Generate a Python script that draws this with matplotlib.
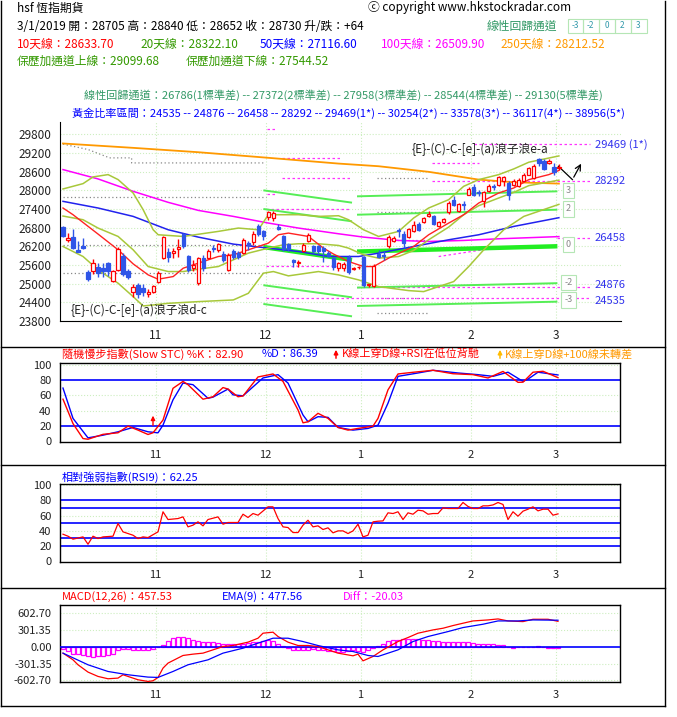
import numpy as np
import matplotlib.pyplot as plt
from matplotlib.lines import Line2D
from matplotlib.patches import Rectangle

plt.rcParams['font.family'] = ['Noto Sans CJK TC', 'DejaVu Sans']

# ---- candles (Oct 2018 .. 1 Mar 2019) ----
opens = [26817, 26386, 26483, 26080, 26200, 25388, 25420, 25549, 25500, 25660,
         25099, 25442, 25893, 25400, 24744, 24959, 24850, 24660, 24720, 25066,
         25818, 26011, 25990, 26100, 26591, 25893, 25500, 25013, 25839, 25839,
         26140, 26065, 25947, 25442, 26054, 25979, 25979, 26301, 26323, 26859,
         26677, 27127, 27106, 26806, 26516, 26269, 25753, 25657, 26032, 26376,
         26215, 26215, 26140, 25990, 25818, 25496, 25496, 25871, 25470, 25520,
         25871, 24940, 24920, 25957, 25920, 26194, 26380, 26730, 26601, 26494,
         26677, 26923, 26988, 27180, 27159, 26859, 26990, 27288, 27696, 27321,
         27560, 27857, 28104, 27950, 27643, 27964, 28147, 28179, 28300, 28233,
         28179, 28126, 28308, 28501, 28394, 29006, 28952, 28880, 28737, 28705]
highs = [26860, 26623, 26752, 26354, 26460, 25440, 25786, 25657, 25660, 25710,
         25450, 26190, 25980, 25480, 24990, 25010, 24990, 24820, 24960, 25390,
         26515, 26140, 26140, 26420, 26620, 25930, 25760, 25870, 25925, 26118,
         26247, 26301, 26032, 25979, 26118, 26032, 26462, 26355, 26677, 26913,
         26730, 27321, 27321, 26913, 26569, 26301, 25796, 25764, 26301, 26623,
         26247, 26247, 26194, 26050, 25850, 25700, 25680, 25920, 25550, 25560,
         25890, 25000, 25620, 26086, 26050, 26550, 26520, 26784, 26680, 26800,
         26998, 26990, 27150, 27321, 27200, 27000, 27106, 27640, 27800, 27600,
         27640, 28090, 28211, 28000, 27990, 28200, 28200, 28460, 28450, 28290,
         28350, 28380, 28560, 28760, 28840, 29040, 29000, 28990, 28880, 28840]
lows = [26494, 26322, 26107, 26000, 26100, 25100, 25313, 25227, 25200, 25230,
        25060, 25420, 25250, 25140, 24580, 24530, 24600, 24560, 24690, 25010,
        25790, 25710, 25820, 25870, 26140, 25388, 25390, 24960, 25410, 25796,
        26011, 26011, 25710, 25410, 25796, 25796, 25947, 26086, 26247, 26516,
        26408, 27052, 27020, 26709, 26032, 26032, 25550, 25550, 26011, 26333,
        25979, 25947, 25710, 25850, 25450, 25400, 25420, 25300, 25440, 25480,
        24906, 24880, 24880, 25820, 25764, 26150, 26350, 26494, 26140, 26460,
        26650, 26700, 26960, 27150, 26880, 26820, 26960, 27250, 27500, 27300,
        27370, 27830, 27800, 27820, 27449, 27930, 28020, 28150, 28140, 27696,
        28150, 28100, 28280, 28480, 28350, 28770, 28650, 28850, 28501, 28652]
closes = [26537, 26462, 26140, 26030, 26150, 25142, 25678, 25335, 25400, 25400,
          25420, 26107, 25313, 25200, 24905, 24669, 24740, 24740, 24910, 25335,
          26494, 25871, 26040, 26180, 26193, 25442, 25600, 25818, 25517, 26054,
          26097, 26269, 25764, 25925, 25871, 25871, 26408, 26226, 26591, 26591,
          26516, 27288, 27267, 26762, 26118, 26108, 25710, 25700, 26247, 26569,
          26032, 26054, 26032, 25900, 25549, 25657, 25630, 25388, 25500, 25530,
          24959, 24980, 25571, 25871, 25880, 26494, 26470, 26687, 26301, 26752,
          26891, 26730, 27106, 27230, 26923, 26966, 27080, 27589, 27535, 27567,
          27520, 28040, 27857, 27900, 27932, 28147, 28093, 28415, 28420, 27857,
          28308, 28340, 28501, 28716, 28791, 28878, 28684, 28950, 28587, 28730]

month_pos = [18.5, 40.5, 59.5, 81.5, 98.5]
month_labels = ['11', '12', '1', '2', '3']
price_ticks = [29800, 29200, 28600, 28000, 27400, 26800, 26200, 25600, 25000, 24400, 23800]

# ---- moving averages / bollinger ----
ma250_x = [0, 14, 27, 41, 55, 63, 73, 83, 90, 99]
ma250_y = [29500, 29360, 29220, 29040, 28855, 28770, 28590, 28340, 28255, 28212]
ma100_x = [0, 7, 14, 21, 27, 34, 41, 47, 55, 60, 67, 73, 80, 87, 99]
ma100_y = [28662, 28362, 27964, 27610, 27352, 27159, 26945, 26784, 26601, 26494,
           26387, 26354, 26387, 26440, 26510]
ma50_x = [0, 7, 14, 21, 27, 34, 41, 47, 53, 59, 63, 70, 77, 83, 90, 99]
ma50_y = [27642, 27428, 27159, 26730, 26494, 26269, 26140, 26032, 25871, 25871,
          25979, 26193, 26408, 26569, 26837, 27117]
ma10_x = [0, 2, 7, 11, 14, 17, 19, 22, 24, 27, 31, 34, 37, 41, 43, 45, 49, 52, 54,
          57, 60, 62, 65, 70, 73, 77, 80, 83, 87, 90, 93, 97, 99]
ma10_y = [27428, 27213, 26591, 26086, 25635, 25281, 25142, 25227, 25496, 25657,
          25871, 25925, 26086, 26301, 26569, 26623, 26515, 26140, 25950, 25710,
          25549, 25549, 25818, 26193, 26569, 26945, 27213, 27589, 27911, 28072,
          28340, 28501, 28634]
bup_x = [0, 4, 6, 9, 11, 14, 16, 18, 19, 24, 31, 35, 39, 41, 44, 47, 51, 55, 57, 60,
         63, 67, 70, 73, 77, 80, 83, 87, 90, 93, 99]
bup_y = [28040, 28211, 28426, 28501, 28340, 27911, 27374, 26730, 26569, 26515,
         26677, 26784, 26730, 27213, 27213, 27213, 27159, 27180, 27052, 26730,
         26515, 26677, 27106, 27428, 27696, 28125, 28340, 28501, 28684, 28899, 29100]
bmid_x = [0, 4, 7, 11, 14, 17, 21, 24, 27, 31, 34, 37, 41, 44, 47, 51, 55, 57, 60,
          63, 67, 70, 73, 77, 80, 83, 87, 90, 93, 99]
bmid_y = [27170, 27052, 26784, 26515, 26086, 25549, 25388, 25388, 25463, 25549,
          25764, 25979, 26140, 26247, 26280, 26280, 26226, 26140, 25925, 25818,
          25871, 26065, 26408, 26816, 27213, 27503, 27750, 27932, 28147, 28322]
blow_x = [0, 4, 7, 11, 14, 16, 18, 21, 27, 34, 37, 40, 42, 45, 51, 55, 59, 63, 69,
          72, 75, 78, 81, 84, 88, 92, 99]
blow_y = [26193, 25871, 25442, 25013, 24583, 24283, 24315, 24368, 24422, 24476,
          24690, 25335, 25388, 25249, 25388, 25281, 25120, 24905, 24776, 24744,
          24905, 25066, 25549, 26086, 26730, 27159, 27545]

# linear regression channels: (start, end) for +3, +2, 0, -2, -3
ch1_x = [40, 57.7]
ch1_lines = [(27996, 27600), (27397, 27000), (26175, 25760), (24950, 24560), (24347, 23950)]
ch2_x = [58.7, 98.7]
ch2_lines = [(27803, 27964), (27213, 27374), (26030, 26200), (24872, 25014), (24283, 24421)]
sigma_labels = ['3', '2', '0', '-2', '-3']
sigma_y = [27986, 27397, 26247, 25033, 24476]

gold_vals = [29469, 28292, 26458, 24876, 24535]
gold_texts = ['29469 (1*)', '28292', '26458', '24876', '24535']

gray_segs = [(0, 40.5, 27783), (0, 40.5, 26237), (0, 40.5, 25336),
             (62.7, 72.7, 28382), (62.7, 72.7, 27300), (66.7, 72.7, 26408),
             (62.7, 72.7, 24531), (62.7, 72.7, 24048)]
gray_step_x = [0, 5, 9.3, 13.7, 13.7, 40]
gray_step_y = [29480, 29306, 29038, 29038, 28876, 28876]
pink_segs = [(40.7, 42.7, 29973), (43.7, 55.3, 29040), (43.7, 57.3, 28395),
             (40.7, 42.7, 27889), (40.5, 57.3, 27397), (40.5, 55.3, 25580),
             (40.5, 105.3, 24531), (82, 105.3, 29469), (73.7, 83, 28877),
             (73.7, 105.3, 28292), (98.7, 105.3, 26458), (58.7, 105.3, 24876)]
pink_slope_x = [75, 86]
pink_slope_y = [25870, 26140]
wave_x = [98.9, 101.7, 103.7]
wave_y = [28769, 28340, 28930]

# ---- slow stochastic ----
k_x = [0, 2, 4, 5, 8, 11, 13, 15, 17, 18, 20, 22, 24, 25, 28, 30, 32, 33, 35, 36,
       39, 42, 44, 47, 48, 49, 51, 53, 55, 57, 59, 62, 63, 65, 67, 70, 74, 78, 82,
       85, 88, 91, 92, 94, 96, 99]
k_y = [54.8, 23, 3.5, 2.6, 9, 11, 19.7, 14.5, 8.8, 11, 27.6, 69, 78, 73.7, 54.8,
       58, 70, 68, 58, 59, 83.8, 87.7, 78, 40.8, 24, 25.4, 36.4, 29.8, 18, 14.5,
       16.7, 19.7, 29.8, 67, 87.7, 89.9, 92.5, 88, 86.8, 82.5, 91, 76.8, 77, 90,
       91.2, 82.9]
d_x = [0, 2, 5, 8, 11, 14, 17, 19, 20, 22, 24, 26, 29, 30, 33, 34, 36, 40, 43, 45,
       48, 49, 51, 53, 55, 58, 61, 63, 65, 67, 71, 74, 79, 83, 86, 89, 92, 93, 95, 99]
d_y = [69.3, 29.8, 4.4, 7.9, 12.3, 18, 12.3, 11, 21, 54, 75.9, 73.7, 56, 57.5, 68,
       60.5, 59.2, 82.5, 86.8, 75.9, 34.2, 25.4, 32, 31.1, 18, 14.5, 16.7, 21,
       49.6, 84.6, 89, 92.5, 89, 86.8, 84.6, 90, 78, 81, 90, 86.4]

# ---- RSI(9) ----
rsi_x = [0, 1, 2, 4, 5, 6, 7, 8, 10, 11, 12, 14, 15, 16, 17, 19, 20, 21, 23, 24,
         25, 26, 27, 28, 29, 31, 32, 33, 35, 36, 37, 38, 39, 41, 42, 43, 44, 45,
         46, 47, 48, 49, 50, 51, 52, 53, 54, 55, 56, 57, 58, 59, 60, 61, 62, 63,
         64, 65, 66, 67, 68, 69, 70, 71, 72, 73, 74, 75, 76, 77, 79, 80, 81, 82,
         83, 84, 85, 86, 87, 88, 89, 90, 91, 92, 93, 94, 95, 96, 97, 98, 99]
rsi_y = [35.5, 32.9, 29, 32, 22.4, 32.9, 29.8, 32, 32.9, 49.6, 38.6, 34.2, 29.8, 32,
         31.1, 38.6, 65, 54.8, 56.1, 58.3, 45.2, 47.4, 51.8, 46.5, 54.8, 58.3, 48.7,
         50.9, 50.9, 61.8, 57.5, 62.7, 60.5, 71.5, 71.5, 56.1, 45.2, 44.3, 37.7,
         37.7, 47.4, 53.9, 45.2, 46.5, 41.7, 43.9, 37.3, 39.9, 39.9, 36.4, 39.9,
         48.7, 32, 34.2, 51.8, 52.6, 53, 63.6, 62.7, 65, 54.8, 63.6, 61.8, 67.1,
         66.2, 61.8, 62.7, 62.7, 70.2, 69.3, 69.3, 77.2, 72, 69.3, 69.3, 72.8, 72.8,
         74, 77.2, 74.6, 54.8, 65, 59.2, 65.8, 68.4, 71.5, 66.2, 68.4, 68.4, 60.5, 62.25]

# ---- MACD ----
macd_x = [0, 2, 3, 5, 7, 9, 11, 12, 13, 15, 17, 18, 19, 20, 21, 24, 26, 28, 30, 32,
          34, 37, 39, 40, 42, 43, 45, 47, 49, 51, 53, 55, 58, 59, 60, 62, 64, 67,
          69, 71, 74, 76, 78, 80, 82, 85, 87, 89, 92, 94, 97, 99]
macd_y = [-113, -233, -322, -453, -531, -573, -561, -501, -531, -591, -621, -609,
          -549, -382, -292, -155, -131, -113, -54, 6, 24, 84, 155, 245, 263, 185,
          84, 24, 24, 6, -54, -113, -161, -131, -251, -173, -54, 95, 167, 245, 304,
          334, 382, 424, 465, 483, 501, 465, 453, 495, 495, 458]
ema_x = [0, 5, 9, 13, 17, 19, 22, 25, 29, 32, 36, 39, 42, 45, 48, 51, 55, 58, 61,
         63, 67, 70, 73, 77, 80, 84, 87, 91, 94, 99]
ema_y = [-113, -322, -442, -501, -543, -549, -442, -322, -233, -113, -24, 66, 155,
         155, 95, 24, -54, -84, -155, -173, -54, 95, 185, 274, 346, 406, 465, 465,
         483, 478]
diff = [-40, -80, -120, -130, -150, -170, -175, -170, -160, -140,
        -120, -60, -40, -45, -50, -55, -60, -50, -40, -10,
        40, 110, 150, 170, 180, 160, 120, 100, 95, 90,
        80, 70, 60, 50, 45, 50, 60, 70, 80, 90,
        110, 120, 100, 60, 20, -20, -50, -60, -55, -50,
        -45, -50, -60, -70, -80, -90, -100, -80, -60, -70,
        -90, -50, -20, 20, 60, 100, 120, 130, 135, 140,
        140, 135, 130, 120, 110, 100, 95, 90, 85, 90,
        85, 80, 70, 60, 55, 50, 45, 40, 35, -10,
        -15, -10, -5, 5, 5, 10, -10, -15, -15, -20]

W, H = 677, 717
fig = plt.figure(figsize=(W / 100, H / 100), dpi=100)
fig.patch.set_facecolor('white')


def ax_at(l, t, r, b):
    return fig.add_axes([l / W, 1 - b / H, (r - l) / W, (b - t) / H])


def ftext(x, y, s, color='black', size=8.5, ha='left'):
    fig.text(x / W, 1 - y / H, s, color=color, fontsize=size, ha=ha, va='center')


def fline(x0, y0, x1, y1, lw=1.0, color='black'):
    fig.add_artist(Line2D([x0 / W, x1 / W], [1 - y0 / H, 1 - y1 / H],
                          color=color, lw=lw, transform=fig.transFigure))


def farrow(x, y0, y1, color):
    fig.add_artist(plt.matplotlib.patches.FancyArrowPatch(
        (x / W, 1 - y0 / H), (x / W, 1 - y1 / H), transform=fig.transFigure,
        arrowstyle='-|>', mutation_scale=6, color=color, lw=1.1))


GRID = '#cdeec0'
XLIM = (-0.6, 111.4)

# frame and separators
fline(1, 1, 1, 706)
fline(665, 1, 665, 706)
fline(1, 706, 665, 706)
for yy in [347, 465, 588]:
    fline(1, yy, 665, yy)

# ---- header ----
ftext(17, 8, 'hsf 恆指期貨')
ftext(368, 8, 'ⓒ copyright www.hkstockradar.com')
ftext(17, 26, '3/1/2019 開：28705 高：28840 低：28652 收：28730 升/跌：+64')
ftext(487, 26, '線性回歸通道', color='#339966')
for n, lab in enumerate(['-3', '-2', '0', '2', '3']):
    cx = 575 + n * 15.8
    fig.add_artist(Rectangle(((cx - 7.5) / W, 1 - 33 / H), 15.8 / W, 14 / H,
                             transform=fig.transFigure, fill=False,
                             edgecolor='#b5e6b5', lw=0.8))
    ftext(cx, 26, lab, color='#3399aa', size=6, ha='center')
ftext(17, 44, '10天線：28633.70', color='#ff0000')
ftext(140, 44, '20天線：28322.10', color='#339900')
ftext(260, 44, '50天線：27116.60', color='#0000ff')
ftext(381, 44, '100天線：26509.90', color='#ff00ff')
ftext(500, 44, '250天線：28212.52', color='#ff9900')
ftext(17, 61, '保歷加通道上線：29099.68', color='#339900')
ftext(186, 61, '保歷加通道下線：27544.52', color='#339900')
ftext(343, 95, '線性回歸通道：26786(1標準差) -- 27372(2標準差) -- 27958(3標準差) -- '
      '28544(4標準差) -- 29130(5標準差)', color='#339966', size=8, ha='center')
ftext(348, 113, '黃金比率區間：24535 -- 24876 -- 26458 -- 28292 -- 29469(1*) -- '
      '30254(2*) -- 33578(3*) -- 36117(4*) -- 38956(5*)', color='#0000ff', size=8,
      ha='center')

# ---- main price chart ----
ax = ax_at(60, 122, 621, 321)
ax.set_xlim(*XLIM)
ax.set_ylim(23800, 30190)
for s in ['top', 'right']:
    ax.spines[s].set_visible(False)
ax.set_yticks(price_ticks)
ax.set_xticks(month_pos)
ax.set_xticklabels(month_labels)
ax.tick_params(length=0, labelsize=8.5, colors='#222222', pad=6)
for p in price_ticks:
    ax.axhline(p, color=GRID, lw=0.8, ls=':', zorder=0)
for m in month_pos:
    ax.axvline(m, color=GRID, lw=0.8, ls=':', zorder=0)

for x0, x1, y in gray_segs:
    ax.plot([x0, x1], [y, y], color='#888888', lw=0.9, ls=(0, (1, 2)), zorder=1)
ax.plot(gray_step_x, gray_step_y, color='#888888', lw=0.9, ls=(0, (1, 2)), zorder=1)
for x0, x1, y in pink_segs:
    ax.plot([x0, x1], [y, y], color='#ff33ff', lw=0.9, ls=(0, (2, 2)), zorder=1,
            clip_on=False)
ax.plot(pink_slope_x, pink_slope_y, color='#ff33ff', lw=0.9, ls=(0, (2, 2)), zorder=1)

for chx, lines in [(ch1_x, ch1_lines), (ch2_x, ch2_lines)]:
    for k, (a, b) in enumerate(lines):
        if k == 2:
            ax.plot(chx, [a, b], color='#22ee22', lw=3.2, zorder=2, solid_capstyle='butt')
        else:
            ax.plot(chx, [a, b], color='#55ee55', lw=1.4, zorder=2, solid_capstyle='butt')

ax.plot(ma250_x, ma250_y, color='#ff9900', lw=1.3, zorder=3)
ax.plot(ma100_x, ma100_y, color='#ff00ff', lw=1.1, zorder=3)
ax.plot(ma50_x, ma50_y, color='#2222ee', lw=1.1, zorder=3)
ax.plot(bup_x, bup_y, color='#a8c83a', lw=1.1, zorder=3)
ax.plot(bmid_x, bmid_y, color='#a8c83a', lw=1.1, zorder=3)
ax.plot(blow_x, blow_y, color='#a8c83a', lw=1.1, zorder=3)
ax.plot(ma10_x, ma10_y, color='#ff2222', lw=1.0, zorder=3)

for i in range(len(opens)):
    o, h, l, c = opens[i], highs[i], lows[i], closes[i]
    up = c >= o
    col = '#ff0000' if up else '#2f55e8'
    ax.vlines(i, l, h, color=col, lw=1.0, zorder=4)
    ax.add_patch(Rectangle((i - 0.33, min(o, c)), 0.66, max(abs(c - o), 12),
                           facecolor='white' if up else col, edgecolor=col,
                           lw=0.9, zorder=5))

ax.annotate('', xy=(wave_x[2], wave_y[2]), xytext=(wave_x[1], wave_y[1]),
            arrowprops=dict(arrowstyle='->', color='black', lw=0.9), annotation_clip=False)
ax.plot(wave_x[:2], wave_y[:2], color='black', lw=0.9, clip_on=False)

ax.text(1.5, 24130, '{E}-(C)-C-[e]-(a)浪子浪d-c', fontsize=8.5, color='#222222',
        va='center')
ax.text(69.5, 29300, '{E}-(C)-C-[e]-(a)浪子浪e-a', fontsize=8.5, color='#222222',
        va='center')
for lab, y in zip(sigma_labels, sigma_y):
    ax.text(100.9, y, lab, fontsize=6.5, color='#888888', ha='center', va='center',
            bbox=dict(boxstyle='square,pad=0.35', fc='white', ec='#b5e6b5', lw=0.8),
            clip_on=False)
gold_shift = [0, 0, 0, 2, -2]
for t, y, dy in zip(gold_texts, gold_vals, gold_shift):
    ax.annotate(t, (106.2, y), xytext=(0, dy), textcoords='offset points',
                fontsize=8, color='#3333ee', va='center', annotation_clip=False)

# ---- stochastic ----
ax2 = ax_at(60, 363, 620, 442)
ax2.set_xlim(*XLIM)
ax2.set_ylim(-1, 102)
ax2.set_yticks([0, 20, 40, 60, 80, 100])
for y in [40, 60, 100]:
    ax2.axhline(y, color=GRID, lw=0.8, ls=':', zorder=0)
for y in [20, 80]:
    ax2.axhline(y, color='#0000ff', lw=1.2, zorder=1)
ax2.plot(k_x, k_y, color='#ff0000', lw=1.0, zorder=3)
ax2.plot(d_x, d_y, color='#0000ff', lw=1.0, zorder=2)
ax2.annotate('', xy=(18, 37), xytext=(18, 17),
             arrowprops=dict(arrowstyle='-|>', color='#ff0000', lw=1, mutation_scale=6))
ftext(62, 354, '隨機慢步指數(Slow STC) %K：82.90', color='#ff0000', size=8)
ftext(262, 354, '%D：86.39', color='#0000ff', size=8)
farrow(336, 361, 347, '#ff0000')
ftext(342, 354, 'K線上穿D線+RSI在低位背馳', color='#ff0000', size=8)
farrow(500, 361, 347, '#ffbb00')
ftext(505, 354, 'K線上穿D線+100線未轉差', color='#ff9900', size=8)

# ---- RSI ----
ax3 = ax_at(60, 484, 620, 562)
ax3.set_xlim(*XLIM)
ax3.set_ylim(-1, 101.5)
ax3.set_yticks([0, 20, 40, 60, 80, 100])
for y in [40, 60, 100]:
    ax3.axhline(y, color=GRID, lw=0.8, ls=':', zorder=0)
for y in [20, 30, 50, 70, 80]:
    ax3.axhline(y, color='#0000ff', lw=1.2, zorder=1)
ax3.plot(rsi_x, rsi_y, color='#ff0000', lw=0.9, zorder=3)
ftext(62, 477, '相對強弱指數(RSI9)：62.25', color='#0000ff', size=8)

# ---- MACD ----
ax4 = ax_at(60, 605, 620, 682)
ax4.set_xlim(*XLIM)
ax4.set_ylim(-631, 751)
ax4.set_yticks([602.7, 301.35, 0, -301.35, -602.7])
ax4.set_yticklabels(['602.70', '301.35', '0.00', '-301.35', '-602.70'])
for y in [602.7, 301.35, -301.35, -602.7]:
    ax4.axhline(y, color=GRID, lw=0.8, ls=':', zorder=0)
ax4.bar(range(len(diff)), diff, width=0.7, facecolor='white', edgecolor='#ff00ff',
        lw=0.9, zorder=2)
ax4.axhline(0, color='#0000ff', lw=1.2, zorder=3)
ax4.plot(macd_x, macd_y, color='#ff0000', lw=0.9, zorder=4)
ax4.plot(ema_x, ema_y, color='#0000ff', lw=0.9, zorder=4)
ftext(62, 597, 'MACD(12,26)：457.53', color='#ff0000', size=8)
ftext(222, 597, 'EMA(9)：477.56', color='#0000ff', size=8)
ftext(343, 597, 'Diff：-20.03', color='#ff00ff', size=8)

for a in [ax2, ax3, ax4]:
    a.set_xticks(month_pos)
    a.set_xticklabels(month_labels)
    a.tick_params(length=0, labelsize=8, colors='#222222', pad=6)
    for m in month_pos:
        a.axvline(m, color=GRID, lw=0.8, ls=':', zorder=0)
    for s in a.spines.values():
        s.set_color('black')
        s.set_linewidth(1)

fig.savefig('out.png', dpi=100, facecolor='white')
